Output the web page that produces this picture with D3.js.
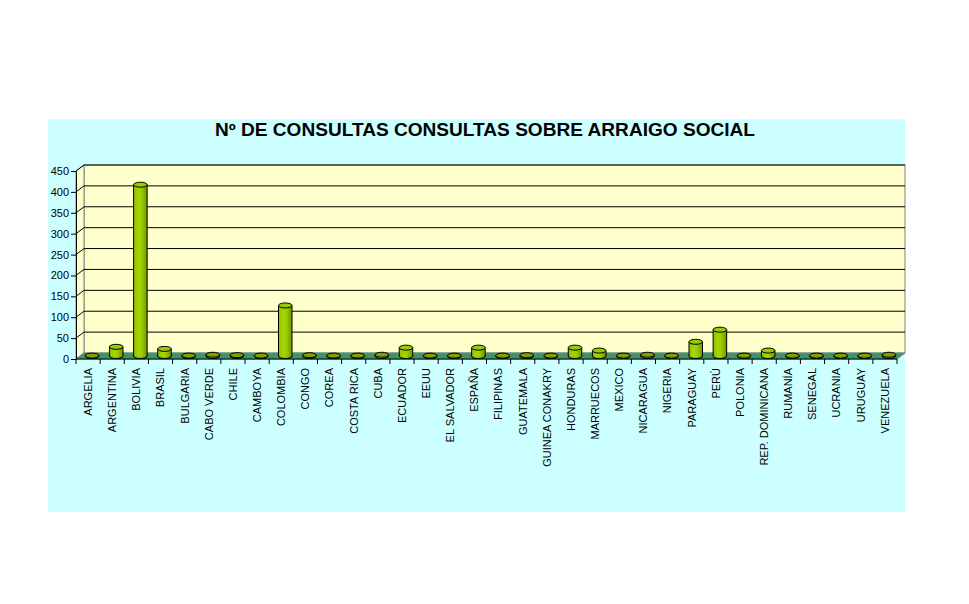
<!DOCTYPE html>
<html>
<head>
<meta charset="utf-8">
<script src="https://cdn.jsdelivr.net/npm/d3@7"></script>
<style>
  body { margin: 0; background: #ffffff; }
  text { font-family: Arial, "Liberation Sans", sans-serif; }
</style>
</head>
<body>
<svg id="mainSVG" width="969" height="604"></svg>
<script>
const paises = ["ARGELIA", "ARGENTINA", "BOLIVIA", "BRASIL", "BULGARIA", "CABO VERDE", "CHILE",
    "CAMBOYA", "COLOMBIA", "CONGO", "COREA", "COSTA RICA", "CUBA", "ECUADOR", "EEUU",
    "EL SALVADOR", "ESPAÑA", "FILIPINAS", "GUATEMALA", "GUINEA CONAKRY", "HONDURAS",
    "MARRUECOS", "MEXICO", "NICARAGUA", "NIGERIA", "PARAGUAY", "PERÚ", "POLONIA",
    "REP. DOMINICANA", "RUMANÍA", "SENEGAL", "UCRANIA", "URUGUAY", "VENEZUELA"]
const consultas = [1, 22, 410, 17, 1, 3, 2,
    1, 121, 2, 1, 1, 3, 20, 1,
    1, 20, 1, 2, 1, 20,
    13, 1, 3, 1, 34, 63, 1,
    13, 1, 1, 1, 1, 3]
const yTicks = [0, 50, 100, 150, 200, 250, 300, 350, 400, 450]
const titulo = "Nº DE CONSULTAS CONSULTAS SOBRE ARRAIGO SOCIAL"

const svg = d3.select("#mainSVG")

// depth of the 3d box
const dx = 8, dy = -6

const x = d3.scaleBand().domain(paises).range([76, 897])
const y = d3.scaleLinear().domain([0, 450]).range([359, 171])

// chart area background
svg.append("rect")
    .attr("x", 48).attr("y", 119)
    .attr("width", 857).attr("height", 393)
    .attr("fill", "#ccffff")

svg.append("text")
    .attr("x", 485).attr("y", 136)
    .attr("text-anchor", "middle")
    .attr("textLength", 540)
    .attr("lengthAdjust", "spacingAndGlyphs")
    .style("font-size", "18px")
    .style("font-weight", "bold")
    .text(titulo)

const x0 = x.range()[0], x1 = x.range()[1]
const yTop = y(450), yBot = y(0)

// back wall
svg.append("rect")
    .attr("x", x0 + dx).attr("y", yTop + dy)
    .attr("width", x1 - x0).attr("height", yBot - yTop)
    .attr("fill", "#ffffcc")
    .attr("stroke", "#808080")

// left wall
svg.append("path")
    .attr("d", `M${x0},${yBot}L${x0},${yTop}L${x0 + dx},${yTop + dy}L${x0 + dx},${yBot + dy}Z`)
    .attr("fill", "#ffffcc")
    .attr("stroke", "#808080")

// gridlines
const grid = svg.append("g")
grid.selectAll("line.g")
    .data(yTicks.slice(1))
    .join("line")
    .attr("x1", x0 + dx).attr("x2", x1 + dx)
    .attr("y1", d => y(d) + dy).attr("y2", d => y(d) + dy)
    .attr("stroke", "#000")
grid.selectAll("line.d")
    .data(yTicks.slice(1))
    .join("line")
    .attr("x1", x0).attr("x2", x0 + dx)
    .attr("y1", d => y(d)).attr("y2", d => y(d) + dy)
    .attr("stroke", "#000")

// floor
svg.append("path")
    .attr("d", `M${x0},${yBot}L${x1},${yBot}L${x1 + dx},${yBot + dy}L${x0 + dx},${yBot + dy}Z`)
    .attr("fill", "#339966")
    .attr("stroke", "#808080")

// bars as cylinders
const defs = svg.append("defs")
const grad = defs.append("linearGradient").attr("id", "cyl")
grad.append("stop").attr("offset", "0%").attr("stop-color", "#8fbf00")
grad.append("stop").attr("offset", "35%").attr("stop-color", "#a6d600")
grad.append("stop").attr("offset", "60%").attr("stop-color", "#99cc00")
grad.append("stop").attr("offset", "100%").attr("stop-color", "#6f9400")

const bw = x.bandwidth() * 0.56, ry = 2.5
const bars = svg.append("g")
    .selectAll("g")
    .data(paises.map((p, i) => ({pais: p, v: consultas[i]})))
    .join("g")
    .attr("transform", d => `translate(${x(d.pais) + x.bandwidth() / 2 + dx / 2},${dy / 2})`)

bars.append("ellipse")
    .attr("cx", 0).attr("cy", y(0))
    .attr("rx", bw / 2).attr("ry", ry)
    .attr("fill", "#4d6600").attr("stroke", "#000")

bars.append("path")
    .attr("d", d => {
        const yt = y(d.v), yb = y(0)
        return `M${-bw / 2},${yt}L${-bw / 2},${yb}A${bw / 2},${ry} 0 0 0 ${bw / 2},${yb}L${bw / 2},${yt}Z`
    })
    .attr("fill", "url(#cyl)").attr("stroke", "#000")

bars.append("ellipse")
    .attr("cx", 0).attr("cy", d => y(d.v))
    .attr("rx", bw / 2).attr("ry", ry)
    .attr("fill", d => d.v < 5 ? "#7aa300" : "#99cc00").attr("stroke", "#000")

// y axis
svg.append("g")
    .attr("transform", `translate(${x0},0)`)
    .call(d3.axisLeft(y).tickValues(yTicks).tickSize(5).tickSizeOuter(0).tickPadding(2))
    .call(g => g.select(".domain").attr("stroke", "#000"))
    .call(g => g.selectAll("text").style("font-size", "11px").attr("fill", "#000").style("font-family", "Arial, 'Liberation Sans', sans-serif"))

// x axis
svg.append("line")
    .attr("x1", x0).attr("x2", x1)
    .attr("y1", yBot).attr("y2", yBot)
    .attr("stroke", "#000")
svg.append("g")
    .selectAll("line")
    .data(d3.range(paises.length + 1))
    .join("line")
    .attr("x1", i => x0 + i * x.step()).attr("x2", i => x0 + i * x.step())
    .attr("y1", yBot).attr("y2", yBot + 5)
    .attr("stroke", "#000")

svg.append("g")
    .selectAll("text")
    .data(paises)
    .join("text")
    .attr("transform", d => `translate(${x(d) + x.bandwidth() / 2},368) rotate(-90)`)
    .attr("text-anchor", "end")
    .attr("dy", "0.35em")
    .style("font-size", "11px")
    .text(d => d)
</script>
</body>
</html>
